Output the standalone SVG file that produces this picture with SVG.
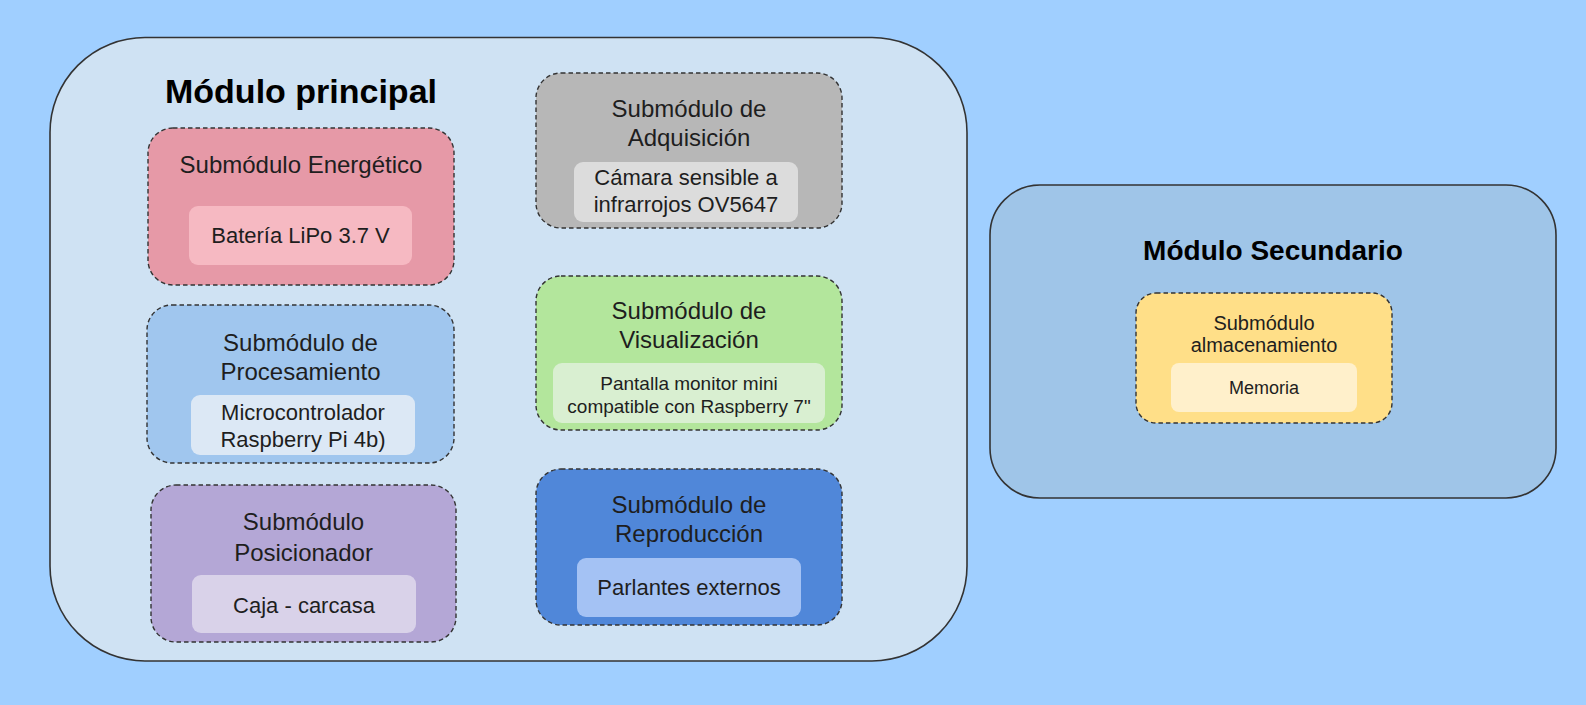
<svg xmlns="http://www.w3.org/2000/svg" width="1586" height="705" viewBox="0 0 1586 705">
<style>
.module{stroke:#333;stroke-width:1.6}
.sub{stroke:#333;stroke-width:1.4;stroke-dasharray:4.5 3}
.t{font-family:"Liberation Sans",Arial,sans-serif;fill:#1e1e1e;text-anchor:middle}
.h{font-family:"Liberation Sans",Arial,sans-serif;font-weight:bold;fill:#000;text-anchor:middle}
.s24{font-size:24px}
.s22{font-size:22px}
</style>
<rect width="1586" height="705" fill="#a0cfff"/>
<g id="modulo-principal">
<rect class="module" x="50" y="37.5" width="917" height="623.5" rx="95" fill="#cfe2f3"/>
<text class="h" x="301" y="102.5" font-size="34">Módulo principal</text>
</g>
<g id="modulo-secundario">
<rect class="module" x="990" y="185" width="566" height="313" rx="50" fill="#9fc5e8"/>
<text class="h" x="1273" y="260" font-size="28">Módulo Secundario</text>
</g>
<g id="sub-energetico">
<rect class="sub" x="148" y="128" width="306" height="157" rx="25" fill="#e699a7"/>
<rect x="189" y="206" width="223" height="59" rx="9" fill="#f6b9c2"/>
<text class="t s24" x="301" y="173">Submódulo Energético</text>
<text class="t s22" x="300.5" y="243">Batería LiPo 3.7 V</text>
</g>
<g id="sub-procesamiento">
<rect class="sub" x="147" y="305" width="307" height="158" rx="25" fill="#a0c6ee"/>
<rect x="191" y="395" width="224" height="60" rx="9" fill="#dce8f5"/>
<text class="t s24" x="300.5" y="351">Submódulo de</text>
<text class="t s24" x="300.5" y="380">Procesamiento</text>
<text class="t s22" x="303" y="420">Microcontrolador</text>
<text class="t s22" x="303" y="447">Raspberry Pi 4b)</text>
</g>
<g id="sub-posicionador">
<rect class="sub" x="151" y="485" width="305" height="157" rx="25" fill="#b4a7d6"/>
<rect x="192" y="575" width="224" height="58" rx="9" fill="#d9d2e9"/>
<text class="t s24" x="303.5" y="530">Submódulo</text>
<text class="t s24" x="303.5" y="561">Posicionador</text>
<text class="t s22" x="304" y="613">Caja - carcasa</text>
</g>
<g id="sub-adquisicion">
<rect class="sub" x="536" y="73" width="306" height="155" rx="25" fill="#b7b7b7"/>
<rect x="574" y="162" width="224" height="60" rx="9" fill="#dcdcdc"/>
<text class="t s24" x="689" y="117">Submódulo de</text>
<text class="t s24" x="689" y="146">Adquisición</text>
<text class="t s22" x="686" y="185">Cámara sensible a</text>
<text class="t s22" x="686" y="212">infrarrojos OV5647</text>
</g>
<g id="sub-visualizacion">
<rect class="sub" x="536" y="276" width="306" height="154" rx="25" fill="#b3e69c"/>
<rect x="553" y="363" width="272" height="60" rx="9" fill="#d9efd1"/>
<text class="t s24" x="689" y="319">Submódulo de</text>
<text class="t s24" x="689" y="348">Visualización</text>
<text class="t" x="689" y="390" font-size="19">Pantalla monitor mini</text>
<text class="t" x="689" y="413" font-size="19">compatible con Raspberry 7"</text>
</g>
<g id="sub-reproduccion">
<rect class="sub" x="536" y="469" width="306" height="156" rx="25" fill="#5087d9"/>
<rect x="577" y="558" width="224" height="59" rx="9" fill="#a4c2f4"/>
<text class="t s24" x="689" y="513">Submódulo de</text>
<text class="t s24" x="689" y="542">Reproducción</text>
<text class="t s22" x="689" y="595">Parlantes externos</text>
</g>
<g id="sub-almacenamiento">
<rect class="sub" x="1136" y="293" width="256" height="130" rx="20" fill="#ffdf88"/>
<rect x="1171" y="363" width="186" height="49" rx="8" fill="#fff0cb"/>
<text class="t" x="1264" y="330" font-size="20">Submódulo</text>
<text class="t" x="1264" y="352" font-size="20">almacenamiento</text>
<text class="t" x="1264" y="394" font-size="18">Memoria</text>
</g>
<g id="connectors"></g>
</svg>
